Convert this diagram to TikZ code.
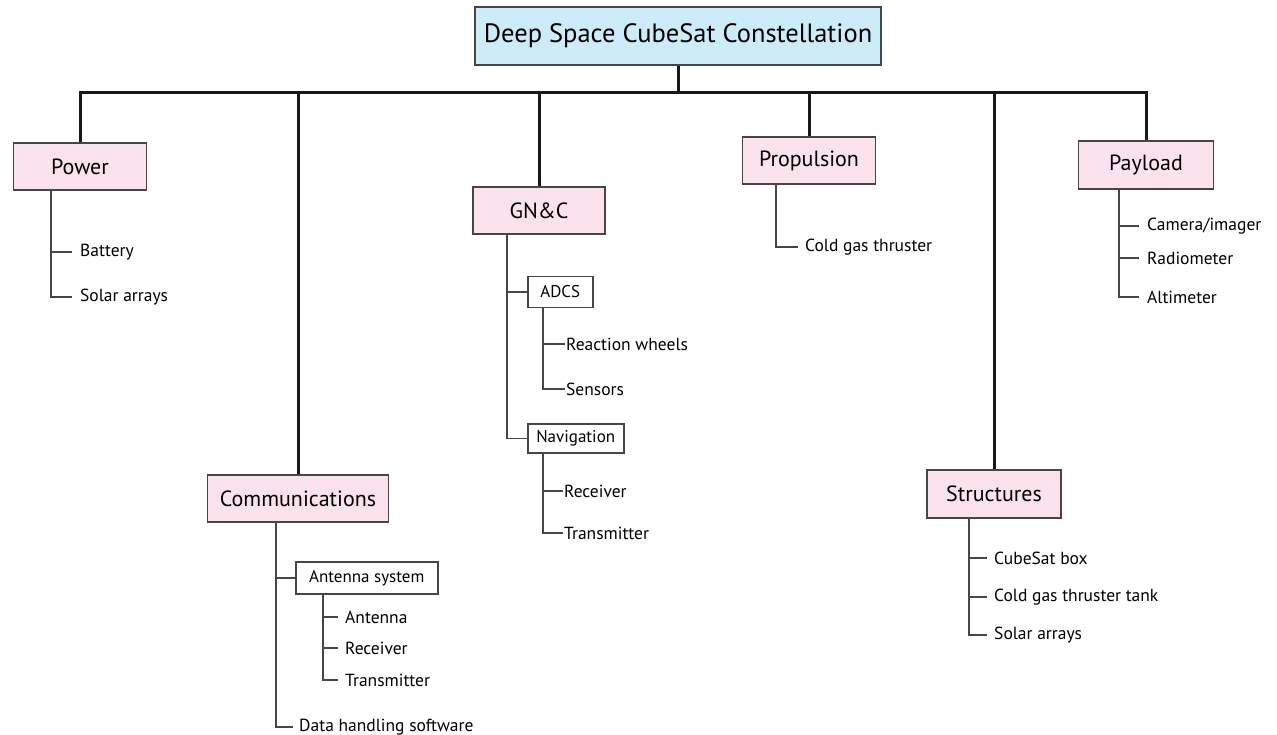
\documentclass[tikz,border=0pt]{standalone}
\usepackage{fontspec}
\setmainfont{PT Sans}
\usetikzlibrary{positioning,calc}
\definecolor{csblue}{RGB}{204,236,250}
\definecolor{cspink}{RGB}{252,226,236}
\definecolor{csline}{RGB}{25,25,25}
\definecolor{csgray}{RGB}{70,70,70}

\begin{document}
\begin{tikzpicture}[x=1pt, y=-1pt,
  topbox/.style={draw=csgray, fill=csblue, line width=1.5pt, minimum width=406pt, minimum height=58pt, font=\fontsize{26.5}{30}\selectfont},
  sysbox/.style={draw=csgray, fill=cspink, line width=1.5pt, minimum width=133pt, minimum height=47pt, font=\fontsize{22}{26}\selectfont},
  subbox/.style={draw=csgray, fill=white, line width=1.5pt, minimum height=30pt, anchor=west, font=\fontsize{17}{20}\selectfont},
  leaf/.style={anchor=west, inner sep=0pt, font=\fontsize{17.5}{20}\selectfont},
  bus/.style={line width=3pt, csline},
  twig/.style={line width=1.8pt, csgray}
]
\useasboundingbox (0,0) rectangle (1277,735);

% Top level
\node[topbox] (dscc) at (678,36) {Deep Space CubeSat Constellation};

% Subsystems
\node[sysbox] (pow) at (80,166.5) {Power};
\node[sysbox, minimum width=181pt] (comm) at (298,498.5) {Communications};
\node[sysbox, minimum width=132pt] (gnc) at (539,210.5) {GN\&C};
\node[sysbox] (prop) at (809,160.5) {Propulsion};
\node[sysbox, minimum width=134pt, minimum height=48pt] (struc) at (994,494) {Structures};
\node[sysbox, minimum width=135pt, minimum height=48pt] (pay) at (1146,165) {Payload};

% Bus
\draw[bus] (dscc.south) -- ++(0,27) coordinate (hub);
\draw[bus] (pow.north) |- (hub) -| (pay.north);
\foreach \n in {comm,gnc,prop,struc}
  \draw[bus] (\n.north) -- (\n.north |- hub);

% Power
\node[leaf] (bat) at (80,252) {Battery};
\node[leaf] (solp) at (80,297) {Solar arrays};
\draw[twig] ([xshift=38.5pt]pow.south west) coordinate (powv) |- ([xshift=-8pt]solp.west);
\draw[twig] (powv |- bat.west) -- ([xshift=-8pt]bat.west);

% Communications
\node[subbox, minimum width=142pt, minimum height=32pt] (ant) at (295,578) {Antenna system};
\node[leaf] (dhs) at (299,727) {Data handling software};
\draw[twig] ([xshift=69.5pt]comm.south west) coordinate (commv) |- ([xshift=-6pt]dhs.west);
\draw[twig] (commv |- ant.west) -- (ant.west);
\node[leaf] (anta) at (345,617) {Antenna};
\node[leaf] (antr) at (345,648) {Receiver};
\node[leaf] (antt) at (345,680) {Transmitter};
\draw[twig] ([xshift=28pt]ant.south west) coordinate (antv) |- ([xshift=-7pt]antt.west);
\foreach \n in {anta,antr}
  \draw[twig] (antv |- \n.west) -- ([xshift=-7pt]\n.west);

% GN&C
\node[subbox, minimum width=65pt, minimum height=31pt] (adcs) at (527,292) {ADCS};
\node[subbox, minimum width=96pt, minimum height=29pt] (nav) at (527,438.5) {Navigation};
\draw[twig] ([xshift=35pt]gnc.south west) coordinate (gncv) |- (nav.west);
\draw[twig] (gncv |- adcs.west) -- (adcs.west);
\node[leaf] (rw) at (566,344) {Reaction wheels};
\node[leaf] (sens) at (566,389) {Sensors};
\draw[twig] ([xshift=16pt]adcs.south west) coordinate (adcsv) |- ([xshift=-1pt]sens.west);
\draw[twig] (adcsv |- rw.west) -- ([xshift=-1pt]rw.west);
\node[leaf] (nrx) at (564,491) {Receiver};
\node[leaf] (ntx) at (564,533) {Transmitter};
\draw[twig] ([xshift=16pt]nav.south west) coordinate (navv) |- ([xshift=-1pt]ntx.west);
\draw[twig] (navv |- nrx.west) -- ([xshift=-1pt]nrx.west);

% Propulsion
\node[leaf] (cgt) at (805,247) {Cold gas thruster};
\draw[twig] ([xshift=34.5pt]prop.south west) |- ([xshift=-7pt]cgt.west);

% Structures
\node[leaf] (cbox) at (994,558) {CubeSat box};
\node[leaf] (tank) at (994,597) {Cold gas thruster tank};
\node[leaf] (sols) at (994,635) {Solar arrays};
\draw[twig] ([xshift=43pt]struc.south west) coordinate (strv) |- ([xshift=-7pt]sols.west);
\foreach \n in {cbox,tank}
  \draw[twig] (strv |- \n.west) -- ([xshift=-7pt]\n.west);

% Payload
\node[leaf] (cam) at (1147,226) {Camera/imager};
\node[leaf] (rad) at (1147,258) {Radiometer};
\node[leaf] (alt) at (1147,297) {Altimeter};
\draw[twig] ([xshift=41.5pt]pay.south west) coordinate (payv) |- ([xshift=-8pt]alt.west);
\foreach \n in {cam,rad}
  \draw[twig] (payv |- \n.west) -- ([xshift=-8pt]\n.west);

\end{tikzpicture}
\end{document}
